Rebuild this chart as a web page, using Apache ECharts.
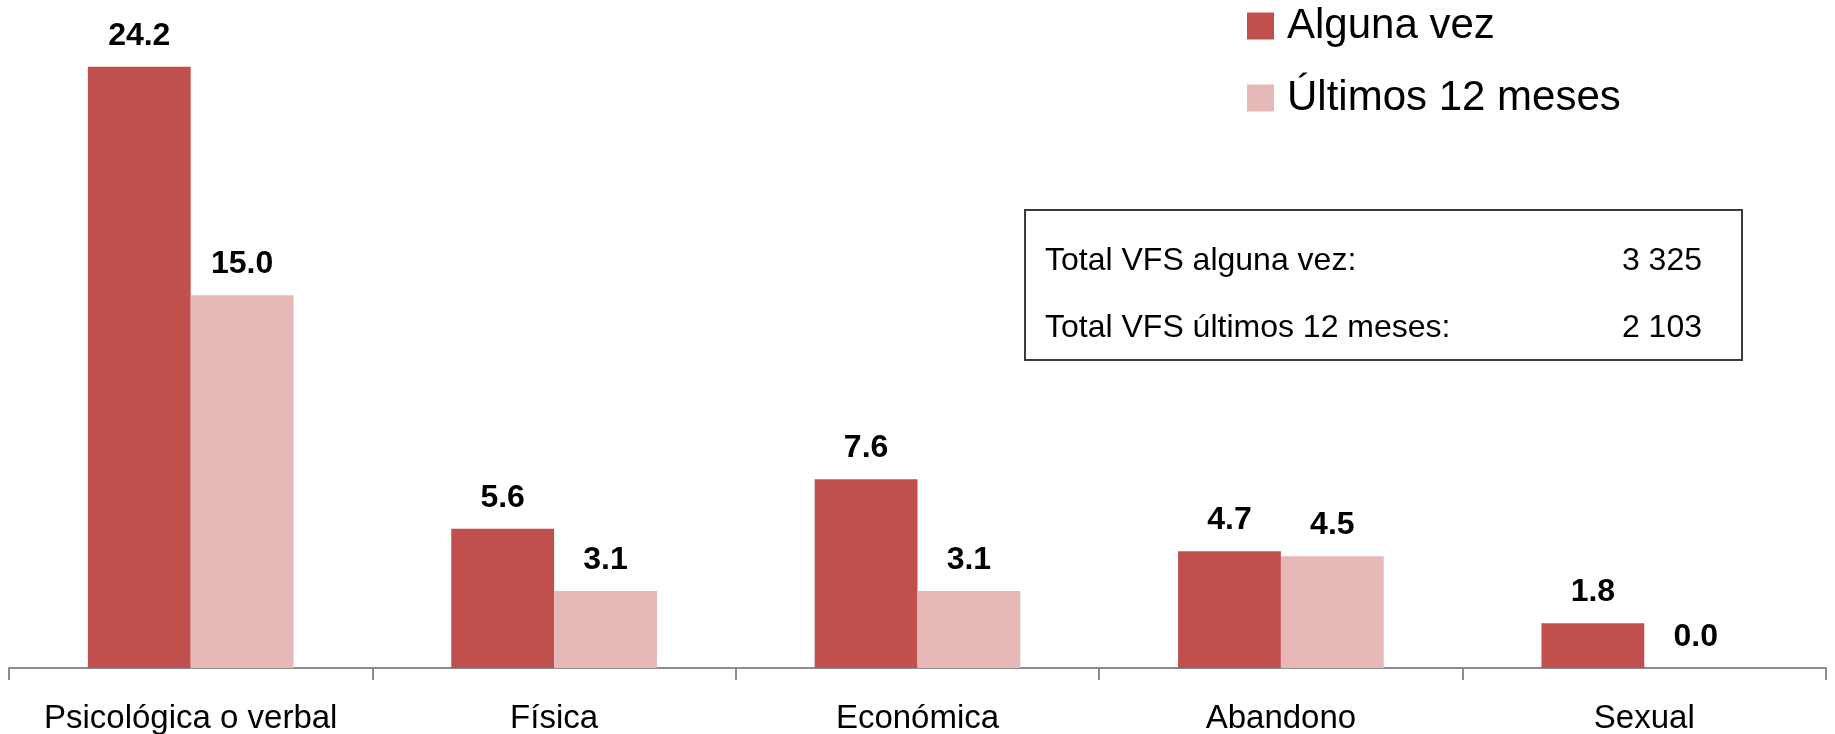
<!DOCTYPE html>
<html>
<head>
<meta charset="utf-8">
<script src="https://cdn.jsdelivr.net/npm/echarts@6/dist/echarts.min.js"></script>
<style>
html,body{margin:0;padding:0;background:#fff;}
#chart{width:1835px;height:734px;}
</style>
</head>
<body>
<div id="chart"></div>
<script>
const categories = ['Psicológica o verbal', 'Física', 'Económica', 'Abandono', 'Sexual'];
const seriesNames = ['Alguna vez', 'Últimos 12 meses'];
const algunaVez = [24.2, 5.6, 7.6, 4.7, 1.8];
const ultimos12 = [15.0, 3.1, 3.1, 4.5, 0.0];
const boxLabels = ['Total VFS alguna vez:', 'Total VFS últimos 12 meses:'];
const boxValues = ['3 325', '2 103'];

const FONT = '"Liberation Sans", Arial, sans-serif';
const chart = echarts.init(document.getElementById('chart'));

const labelStyle = {
  show: true,
  position: 'top',
  distance: 15,
  fontFamily: FONT,
  fontWeight: 'bold',
  fontSize: 32,
  color: '#000',
  formatter: p => p.value.toFixed(1)
};

chart.setOption({
  animation: false,
  backgroundColor: '#fff',
  grid: { left: 9, right: 9, top: 22, bottom: 66, containLabel: false, outerBoundsMode: 'none' },
  legend: {
    orient: 'vertical',
    left: 1247,
    top: 4,
    padding: 0,
    itemWidth: 27,
    itemHeight: 27,
    itemGap: 28,
    icon: 'rect',
    textStyle: { fontFamily: FONT, fontSize: 42, color: '#000', lineHeight: 44, padding: [0, 0, 0, 8] },
    data: seriesNames
  },
  xAxis: {
    type: 'category',
    data: categories,
    axisLine: { lineStyle: { color: '#8c8c8c', width: 2 } },
    axisTick: { show: true, length: 12, lineStyle: { color: '#8c8c8c', width: 2 } },
    axisLabel: { fontFamily: FONT, fontSize: 33, color: '#000', margin: 34, interval: 0 }
  },
  yAxis: {
    type: 'value',
    min: 0,
    max: 26,
    show: false,
    splitLine: { show: false }
  },
  series: [
    {
      name: seriesNames[0],
      type: 'bar',
      data: algunaVez,
      barGap: '0%',
      barCategoryGap: '43.4%',
      itemStyle: { color: '#C0504D' },
      label: labelStyle
    },
    {
      name: seriesNames[1],
      type: 'bar',
      data: ultimos12,
      itemStyle: { color: '#E6B9B8' },
      label: labelStyle
    }
  ],
  graphic: [
    {
      type: 'rect',
      shape: { x: 1025, y: 210, width: 717, height: 150 },
      style: { fill: '#fff', stroke: '#3f3c34', lineWidth: 2 }
    },
    {
      type: 'text', x: 1045, y: 261,
      style: { text: boxLabels[0], fontFamily: FONT, fontSize: 32, fill: '#000', align: 'left', verticalAlign: 'middle' }
    },
    {
      type: 'text', x: 1045, y: 328,
      style: { text: boxLabels[1], fontFamily: FONT, fontSize: 32, fill: '#000', align: 'left', verticalAlign: 'middle' }
    },
    {
      type: 'text', x: 1702, y: 261,
      style: { text: boxValues[0], fontFamily: FONT, fontSize: 32, fill: '#000', align: 'right', verticalAlign: 'middle' }
    },
    {
      type: 'text', x: 1702, y: 328,
      style: { text: boxValues[1], fontFamily: FONT, fontSize: 32, fill: '#000', align: 'right', verticalAlign: 'middle' }
    }
  ]
});
</script>
</body>
</html>
